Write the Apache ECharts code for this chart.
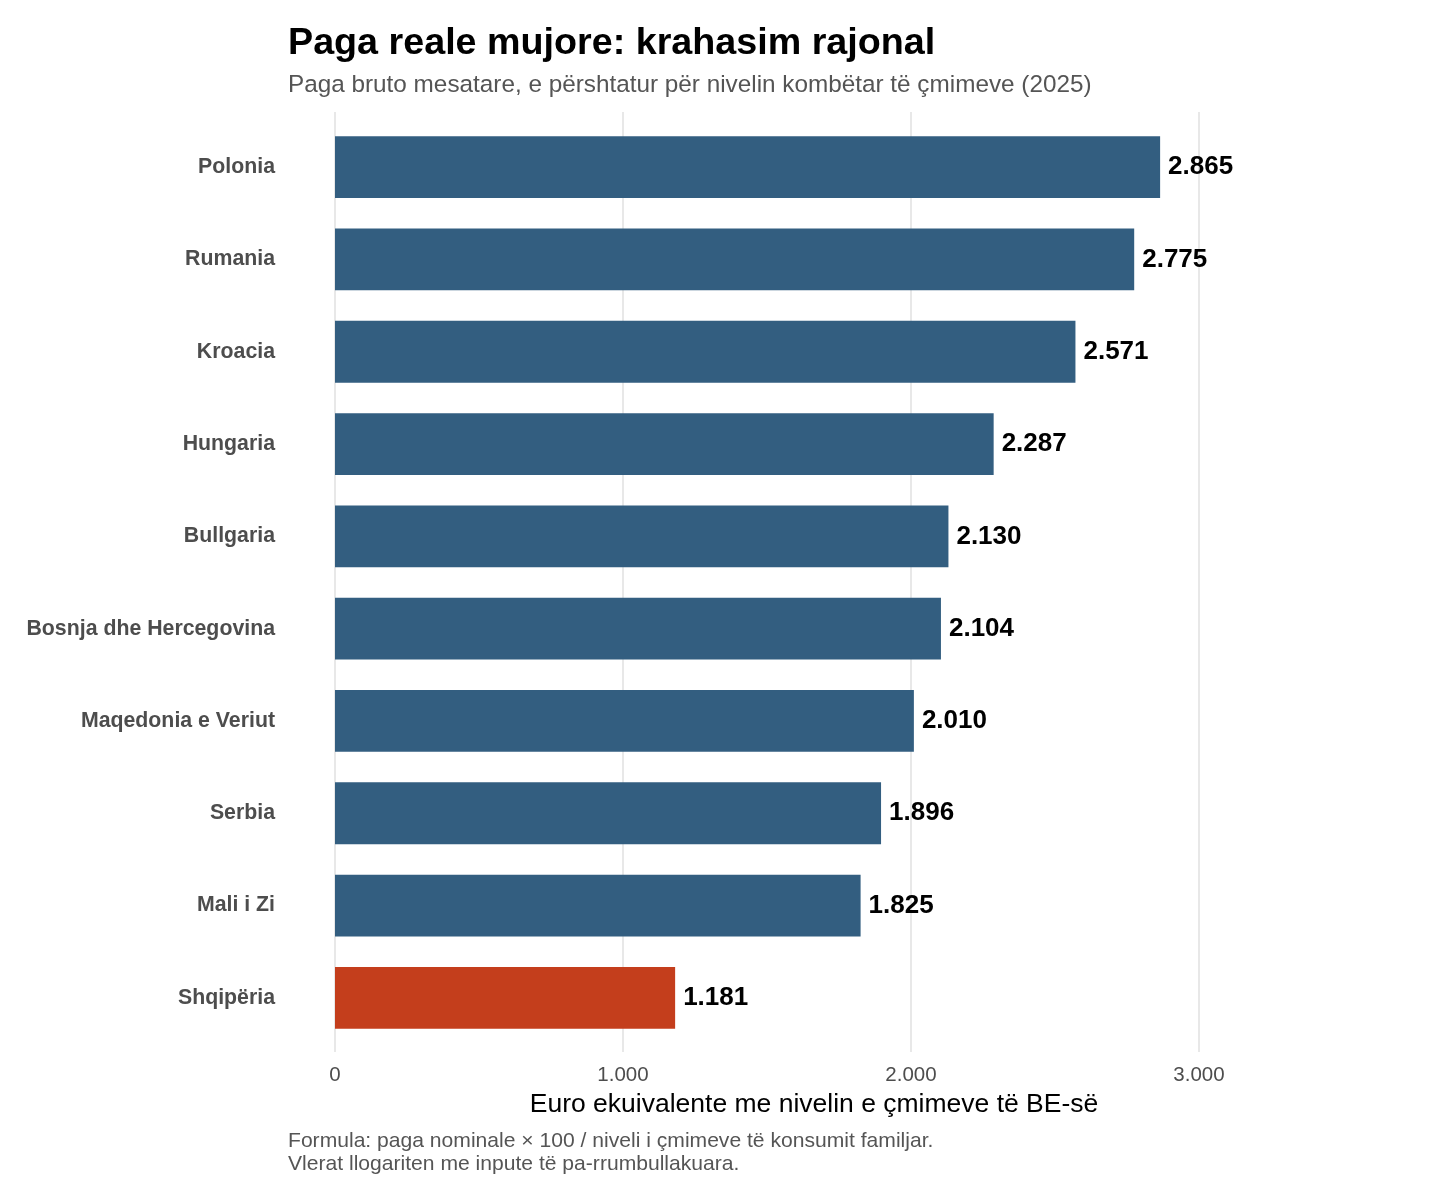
<!DOCTYPE html>
<html>
<head>
<meta charset="utf-8">
<script src="https://cdn.jsdelivr.net/npm/echarts@6/dist/echarts.min.js"></script>
<style>
html,body{margin:0;padding:0;background:#fff;}
#chart{width:1440px;height:1200px;}
</style>
</head>
<body>
<div id="chart"></div>
<script>
// ---- data ----
const countries = ['Polonia','Rumania','Kroacia','Hungaria','Bullgaria','Bosnja dhe Hercegovina','Maqedonia e Veriut','Serbia','Mali i Zi','Shqipëria'];
const realWage = [2865, 2775, 2571, 2287, 2130, 2104, 2010, 1896, 1825, 1181];
const highlightCountry = 'Shqipëria';
const xTicks = [0, 1000, 2000, 3000];

const FONT = '"Liberation Sans", Arial, Helvetica, sans-serif';
const fmt = v => String(v).replace(/\B(?=(\d{3})+(?!\d))/g, '.');

const chart = echarts.init(document.getElementById('chart'), null, {renderer: 'canvas'});
const xMax = xTicks[xTicks.length - 1];

chart.setOption({
  backgroundColor: '#ffffff',
  animation: false,
  title: [
    {text: 'Paga reale mujore: krahasim rajonal', left: 283, top: 20,
     textStyle: {fontFamily: FONT, fontSize: 37.7, fontWeight: 'bold', color: '#000'}},
    {text: 'Paga bruto mesatare, e përshtatur për nivelin kombëtar të çmimeve (2025)', left: 283, top: 68,
     textStyle: {fontFamily: FONT, fontSize: 24.3, fontWeight: 'normal', color: '#555555'}},
    {text: 'Formula: paga nominale × 100 / niveli i çmimeve të konsumit familjar.\nVlerat llogariten me inpute të pa-rrumbullakuara.',
     left: 283, top: 1125,
     textStyle: {fontFamily: FONT, fontSize: 21.1, fontWeight: 'normal', color: '#555555', lineHeight: 23}}
  ],
  grid: [
    {left: 335, right: 1440 - 335 - 864, top: 112, bottom: 148, containLabel: false},
    {left: 335, right: 1440 - 335 - 864, top: 121, bottom: 156, containLabel: false}
  ],
  xAxis: [
    {type: 'value', gridIndex: 0, min: 0, max: xMax, interval: 1000,
     axisLine: {show: false}, axisTick: {show: false},
     splitLine: {show: true, lineStyle: {color: '#e8e8e8', width: 2}},
     axisLabel: {margin: 13, fontFamily: FONT, fontSize: 20.5, color: '#4d4d4d', formatter: v => fmt(v)},
     name: 'Euro ekuivalente me nivelin e çmimeve të BE-së', nameLocation: 'middle', nameGap: 38,
     nameTextStyle: {fontFamily: FONT, fontSize: 26.5, color: '#000', padding: [0, 0, 0, 94]}},
    {type: 'value', gridIndex: 1, min: 0, max: xMax, interval: 1000, show: false,
     splitLine: {show: false}}
  ],
  yAxis: [
    {type: 'value', gridIndex: 0, show: false, splitLine: {show: false}},
    {type: 'category', gridIndex: 1, data: countries, inverse: true,
     axisLine: {show: false}, axisTick: {show: false}, splitLine: {show: false},
     axisLabel: {margin: 60, fontFamily: FONT, fontSize: 21.3, fontWeight: 'bold', color: '#4d4d4d',
                 padding: [4, 0, 0, 0]}}
  ],
  series: [{
    type: 'bar', xAxisIndex: 1, yAxisIndex: 1,
    data: realWage, barWidth: '67%',
    itemStyle: {color: p => p.name === highlightCountry ? '#c43e1c' : '#335e80'},
    label: {show: true, position: 'right', distance: 8, fontFamily: FONT, fontSize: 26,
            fontWeight: 'bold', color: '#000', padding: [4, 0, 0, 0], formatter: p => fmt(p.value)}
  }]
});
</script>
</body>
</html>
